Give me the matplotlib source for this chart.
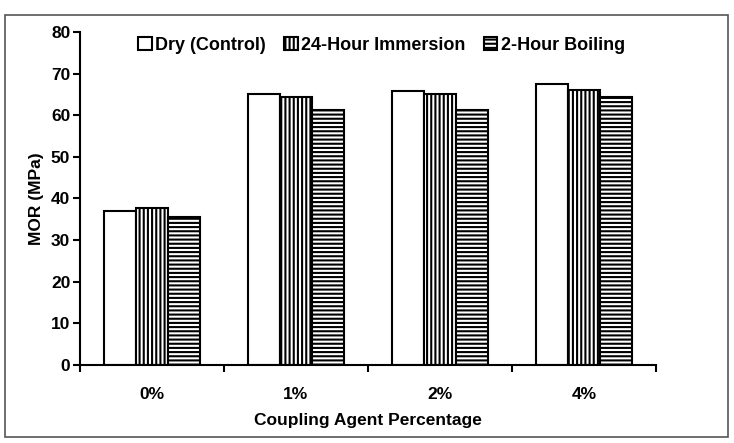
import numpy as np
import matplotlib.pyplot as plt
from matplotlib.patches import Rectangle

# =========================
# Data
# =========================
categories = ["0%", "1%", "2%", "4%"]
series_names = ["Dry (Control)", "24-Hour Immersion", "2-Hour Boiling"]
dry = [37.1, 65.0, 65.9, 67.4]
immersion = [37.8, 64.3, 65.2, 66.0]
boiling = [35.5, 61.2, 61.3, 64.5]
hatches = ["", "||||", "----"]

plt.rcParams["font.family"] = ["Liberation Sans", "DejaVu Sans"]
plt.rcParams["font.weight"] = "bold"
plt.rcParams["hatch.linewidth"] = 1.5

fs = 12.5

fig = plt.figure(figsize=(7.34, 4.43), dpi=100)
# outer frame
fig.patches.append(Rectangle((5 / 734, 6 / 443), 723 / 734, 422 / 443,
                             transform=fig.transFigure, fill=False,
                             edgecolor="#555555", linewidth=1.2))

ax = fig.add_axes([80 / 734, 78 / 443, 576 / 734, 333 / 443])

x = np.arange(len(categories))
w = 0.222
for i, (vals, name, h) in enumerate(zip([dry, immersion, boiling], series_names, hatches)):
    ax.bar(x + (i - 1) * w, vals, w, facecolor="white", edgecolor="black",
           linewidth=1.5, hatch=h, label=name)

ax.set_xlim(-0.5, len(categories) - 0.5)
ax.set_ylim(0, 80)
ax.set_yticks(np.arange(0, 81, 10))
ax.set_xticks(x)
ax.set_xticklabels(categories)
ax.set_xticks(np.arange(-0.5, len(categories), 1), minor=True)
ax.tick_params(axis="x", which="major", length=0, pad=16, labelsize=fs)
ax.tick_params(axis="x", which="minor", length=5, width=1.5, direction="out")
ax.tick_params(axis="y", length=5, width=1.5, direction="out", labelsize=fs, pad=2)
for lbl in ax.get_xticklabels() + ax.get_yticklabels():
    lbl.set_fontweight("bold")

ax.spines["top"].set_visible(False)
ax.spines["right"].set_visible(False)
ax.spines["left"].set_linewidth(1.5)
ax.spines["bottom"].set_linewidth(1.5)

ax.set_ylabel("MOR (MPa)", fontsize=fs, fontweight="bold", labelpad=5)
ax.set_xlabel("Coupling Agent Percentage", fontsize=fs, fontweight="bold", labelpad=8)

leg = fig.legend(*ax.get_legend_handles_labels(), loc="center left",
                 bbox_to_anchor=(138 / 734, 1 - 45 / 443), ncol=3, frameon=False,
                 handlelength=0.75, handleheight=0.75, handletextpad=0.2,
                 columnspacing=1.0, borderaxespad=0, borderpad=0,
                 prop={"size": 13, "weight": "bold"})

fig.savefig("out.png", dpi=100)
